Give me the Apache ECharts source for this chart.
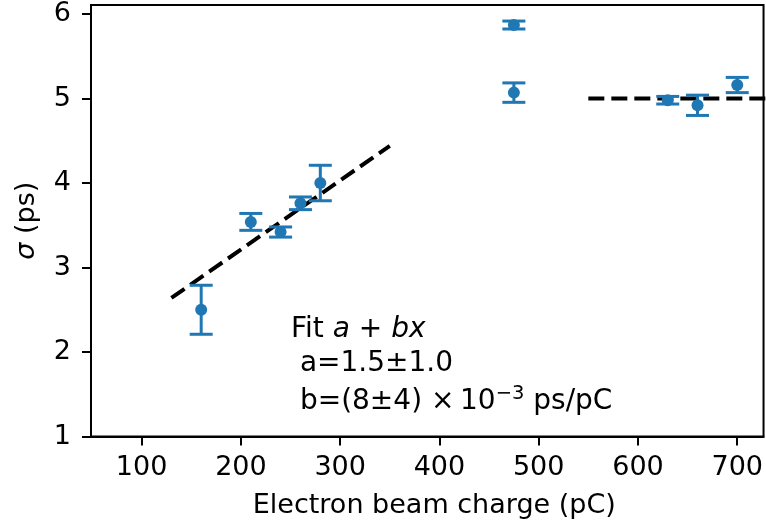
<!DOCTYPE html>
<html>
<head>
<meta charset="utf-8">
<script src="https://cdn.jsdelivr.net/npm/echarts@6/dist/echarts.min.js"></script>
<style>
  html, body { margin: 0; padding: 0; background: #fff; }
  #chart { width: 766px; height: 525px; }
</style>
</head>
<body>
<div id="chart"></div>
<script>
// Measured bunch length vs. electron beam charge
const charge = [160, 210, 240, 260, 280, 475, 475, 630, 660, 700];
const sigma  = [2.50, 3.54, 3.42, 3.76, 4.00, 5.87, 5.07, 4.98, 4.92, 5.16];
const sigmaErr = [0.29, 0.10, 0.06, 0.075, 0.21, 0.047, 0.115, 0.045, 0.12, 0.09];

// Linear fit a + b x (low-charge region) and plateau (high-charge region)
const fitLine = [[130, 2.64], [350, 4.44]];
const plateau = [[550, 5.0], [760, 5.0]];

const xTicks = [100, 200, 300, 400, 500, 600, 700];
const yTicks = [1, 2, 3, 4, 5, 6];

const FONT = 'DejaVu Sans';
const FS = 27;      // axis text
const FT = 28;      // fit annotation
const BLUE = '#1f77b4';

const points = charge.map((c, i) => [c, sigma[i]]);
const errData = charge.map((c, i) => [c, sigma[i], sigmaErr[i]]);

const chart = echarts.init(document.getElementById('chart'), null, { renderer: 'canvas' });

chart.setOption({
  animation: false,
  backgroundColor: '#fff',
  grid: {
    left: 91, top: 5, right: 0, bottom: 88.5,
    show: true, borderColor: '#000', borderWidth: 2, backgroundColor: 'transparent'
  },
  xAxis: {
    type: 'value', min: 49, max: 726.5,
    name: 'Electron beam charge (pC)',
    nameLocation: 'middle', nameGap: 56,
    nameTextStyle: { fontFamily: FONT, fontSize: FS, color: '#000', padding: [0, 0, 0, 14] },
    axisLine: { lineStyle: { color: '#000', width: 2 } },
    axisTick: { show: true, customValues: xTicks, length: 9, lineStyle: { color: '#000', width: 2 } },
    axisLabel: { customValues: xTicks, margin: 18, fontFamily: FONT, fontSize: FS, color: '#000' },
    splitLine: { show: false }
  },
  yAxis: {
    type: 'value', min: 1, max: 6.107,
    name: '{i|σ} (ps)',
    nameLocation: 'middle', nameGap: 51, nameRotate: 90,
    nameTextStyle: {
      fontFamily: FONT, fontSize: FS, color: '#000',
      rich: { i: { fontFamily: FONT, fontStyle: 'italic', fontSize: FS, color: '#000' } }
    },
    axisLine: { show: true, lineStyle: { color: '#000', width: 2 } },
    axisTick: { show: true, customValues: yTicks, length: 9, lineStyle: { color: '#000', width: 2 } },
    axisLabel: { customValues: yTicks, margin: 20, fontFamily: FONT, fontSize: FS, color: '#000' },
    splitLine: { show: false }
  },
  series: [
    {
      type: 'line', data: fitLine, showSymbol: false, z: 2, clip: true,
      lineStyle: { color: '#000', width: 4, type: [16, 7] }
    },
    {
      type: 'line', data: plateau, showSymbol: false, z: 2, clip: true,
      lineStyle: { color: '#000', width: 4, type: [16, 7] }
    },
    {
      type: 'custom', data: errData, z: 3,
      renderItem: function (params, api) {
        const x = api.value(0), y = api.value(1), e = api.value(2);
        const hi = api.coord([x, y + e]);
        const lo = api.coord([x, y - e]);
        const hw = 11.5;
        const style = { stroke: BLUE, lineWidth: 3, fill: null };
        return {
          type: 'group',
          children: [
            { type: 'line', shape: { x1: hi[0], y1: hi[1], x2: lo[0], y2: lo[1] }, style: style },
            { type: 'line', shape: { x1: hi[0] - hw, y1: hi[1], x2: hi[0] + hw, y2: hi[1] }, style: style },
            { type: 'line', shape: { x1: lo[0] - hw, y1: lo[1], x2: lo[0] + hw, y2: lo[1] }, style: style }
          ]
        };
      }
    },
    {
      type: 'scatter', data: points, symbol: 'circle', symbolSize: 12, z: 4,
      itemStyle: { color: BLUE, opacity: 1 }
    }
  ],
  graphic: [
    {
      type: 'text', x: 291, y: 330, z: 10,
      style: {
        text: 'Fit {i|a} + {i|bx}',
        fontFamily: FONT, fontSize: FT, fill: '#000', verticalAlign: 'middle',
        rich: { i: { fontFamily: FONT, fontStyle: 'italic', fontSize: FT, fill: '#000' } }
      }
    },
    {
      type: 'text', x: 291, y: 364, z: 10,
      style: { text: ' a=1.5±1.0', fontFamily: FONT, fontSize: FT, fill: '#000', verticalAlign: 'middle' }
    },
    {
      type: 'text', x: 291, y: 402, z: 10,
      style: {
        text: ' b=(8±4) ×\u200910{sup|−3} ps/pC',
        fontFamily: FONT, fontSize: FT, fill: '#000', verticalAlign: 'middle', lineHeight: 37,
        rich: { sup: { fontFamily: FONT, fontSize: 19.5, fill: '#000', verticalAlign: 'top', lineHeight: 19.5 } }
      }
    }
  ]
});
</script>
</body>
</html>
